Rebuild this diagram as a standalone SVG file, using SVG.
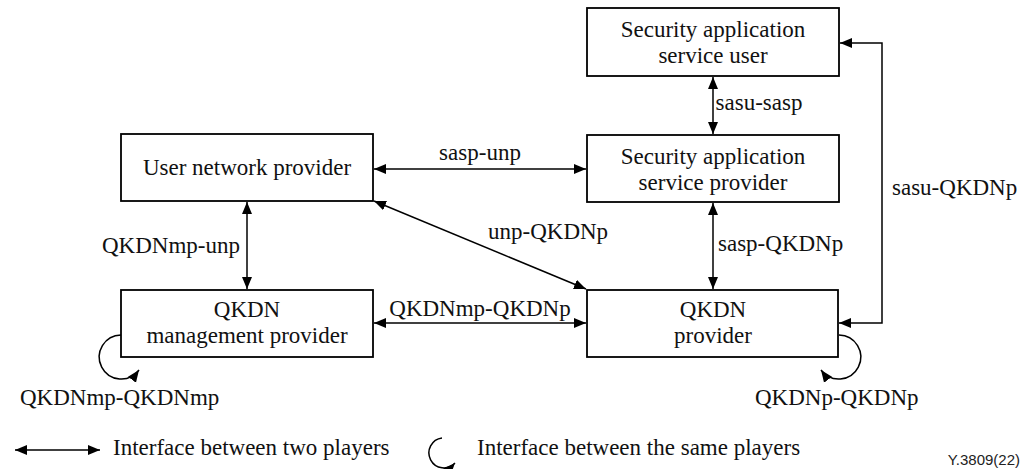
<svg xmlns="http://www.w3.org/2000/svg" width="1033" height="469" viewBox="0 0 1033 469">
<style>
.box{fill:#fff;stroke:#000;stroke-width:1.8}
.t{font-family:"Liberation Serif","DejaVu Serif",serif;font-size:23px;fill:#111}
.c{text-anchor:middle}
.ln{fill:none;stroke:#000;stroke-width:1.5}
.dbl{marker-start:url(#ah);marker-end:url(#ah)}
.one{marker-end:url(#ah)}
.code{font-family:"Liberation Sans",Arial,sans-serif;font-size:15px;fill:#222}
</style>
<defs>
<marker id="ah" markerUnits="userSpaceOnUse" markerWidth="13" markerHeight="11" refX="12" refY="5" orient="auto-start-reverse" viewBox="0 0 13 10">
<path d="M0,0 L12,5 L0,10 z" fill="#000"/>
</marker>
</defs>
<rect width="1033" height="469" fill="#fff"/>

<g id="connectors">
<line class="ln dbl" x1="713" y1="77" x2="713" y2="134"/>
<line class="ln dbl" x1="713" y1="203" x2="713" y2="289"/>
<line class="ln dbl" x1="247" y1="202" x2="247" y2="289"/>
<line class="ln dbl" x1="374" y1="169" x2="586" y2="169"/>
<line class="ln dbl" x1="374" y1="323" x2="586" y2="323"/>
<line class="ln dbl" x1="374" y1="201" x2="586" y2="289"/>
<polyline class="ln dbl" points="840,43 882,43 882,323 839,323"/>
<path class="ln one" d="M121,335 A22,22 0 1 0 139,370"/>
<path class="ln one" d="M839,335 A22,22 0 1 1 821,370"/>
<text class="t c" x="759" y="110">sasu-sasp</text>
<text class="t" x="892" y="195">sasu-QKDNp</text>
<text class="t" x="718" y="251">sasp-QKDNp</text>
<text class="t c" x="480" y="160">sasp-unp</text>
<text class="t" x="488" y="239">unp-QKDNp</text>
<text class="t c" x="480" y="316">QKDNmp-QKDNp</text>
<text class="t" x="240" y="253" text-anchor="end">QKDNmp-unp</text>
<text class="t" x="20" y="405">QKDNmp-QKDNmp</text>
<text class="t" x="755" y="405">QKDNp-QKDNp</text>
</g>

<g id="sasu">
<rect class="box" x="587" y="8" width="252" height="68"/>
<text class="t c" x="713" y="37">Security application</text>
<text class="t c" x="713" y="63">service user</text>
</g>
<g id="sasp">
<rect class="box" x="587" y="135" width="252" height="67"/>
<text class="t c" x="713" y="164">Security application</text>
<text class="t c" x="713" y="190">service provider</text>
</g>
<g id="unp">
<rect class="box" x="121" y="134" width="252" height="67"/>
<text class="t c" x="247" y="175">User network provider</text>
</g>
<g id="qkdnmp">
<rect class="box" x="121" y="290" width="252" height="67"/>
<text class="t c" x="247" y="317">QKDN</text>
<text class="t c" x="247" y="343">management provider</text>
</g>
<g id="qkdnp">
<rect class="box" x="587" y="290" width="251" height="67"/>
<text class="t c" x="713" y="317">QKDN</text>
<text class="t c" x="713" y="343">provider</text>
</g>

<g id="legend">
<line class="ln dbl" x1="15" y1="450" x2="100" y2="450"/>
<text class="t" x="113" y="455">Interface between two players</text>
<path class="ln one" d="M442,438 A15,15 0 1 0 455,463"/>
<text class="t" x="477" y="455">Interface between the same players</text>
<text class="code" x="1020" y="465" text-anchor="end">Y.3809(22)</text>
</g>
</svg>
